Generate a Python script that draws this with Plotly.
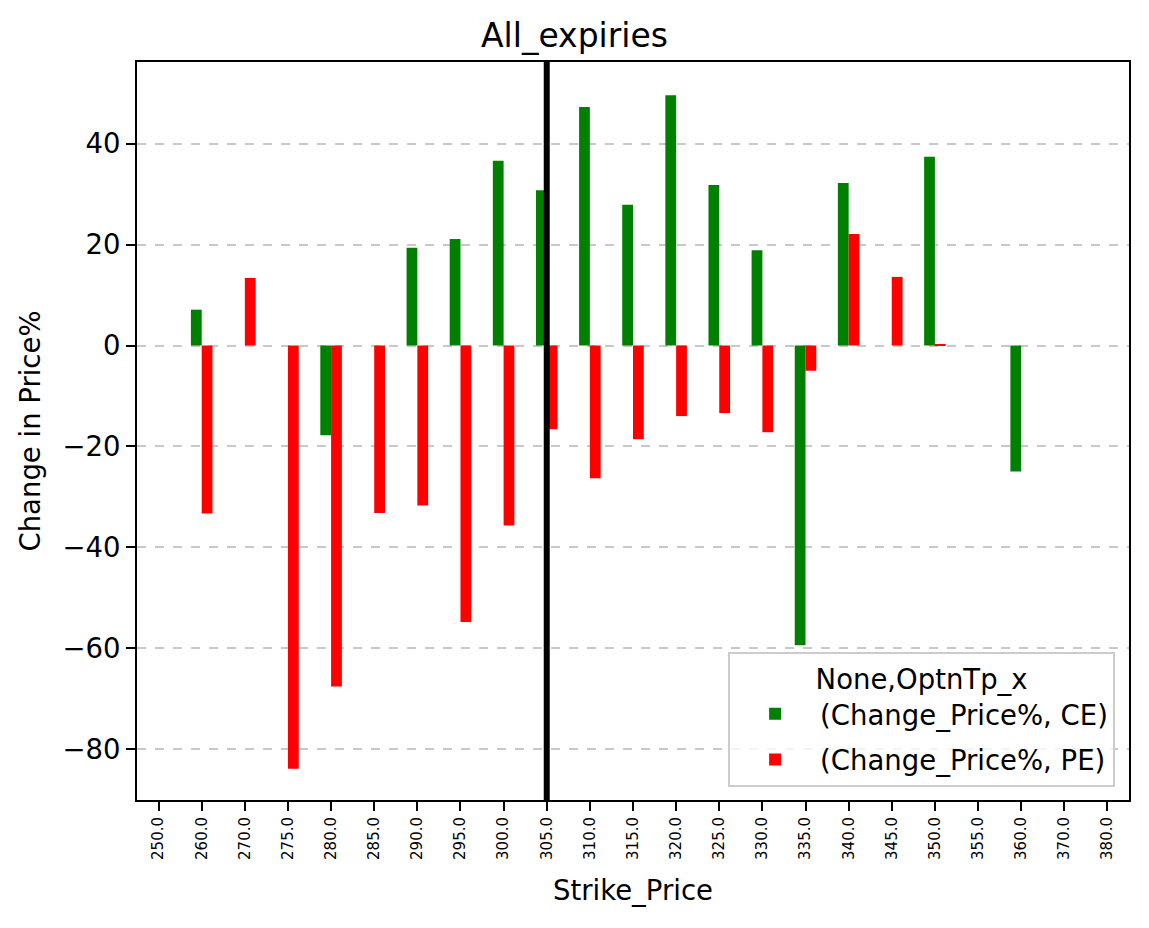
import plotly.graph_objects as go

strikes = ["250.0", "260.0", "270.0", "275.0", "280.0", "285.0", "290.0", "295.0",
           "300.0", "305.0", "310.0", "315.0", "320.0", "325.0", "330.0", "335.0",
           "340.0", "345.0", "350.0", "355.0", "360.0", "370.0", "380.0"]

ce_change = [None, 7.1, None, None, -17.8, None, 19.4, 21.1,
             36.6, 30.8, 47.3, 27.9, 49.6, 31.8, 18.9, -59.4,
             32.2, None, 37.4, None, -25.0, None, None]

pe_change = [None, -33.3, 13.4, -83.9, -67.6, -33.2, -31.7, -54.8,
             -35.7, -16.6, -26.3, -18.6, -14.0, -13.4, -17.2, -5.0,
             22.1, 13.6, 0.2, None, None, None, None]

atm_strike = "305.0"
y_ticks = [-80, -60, -40, -20, 0, 20, 40]

FONT = "DejaVu Sans"
BASE = 27.5

fig = go.Figure()
fig.add_trace(go.Bar(x=strikes, y=ce_change, name="(Change_Price%, CE)",
                     legendgroup="ce",
                     marker=dict(color="#008000", line=dict(width=0))))
fig.add_trace(go.Bar(x=strikes, y=pe_change, name="(Change_Price%, PE)",
                     legendgroup="pe",
                     marker=dict(color="#ff0000", line=dict(width=0))))

atm_idx = strikes.index(atm_strike)
fig.add_shape(type="line", xref="x", yref="paper", x0=atm_idx, x1=atm_idx,
              y0=0, y1=1, line=dict(color="black", width=6), layer="above")

fig.update_layout(
    width=1149, height=928,
    margin=dict(l=137, r=20, t=62, b=128),
    paper_bgcolor="white", plot_bgcolor="white",
    font=dict(family=FONT, size=BASE, color="black"),
    barmode="group", bargap=0.5, bargroupgap=0,
    title=dict(text="All_expiries", x=0.5, xanchor="center", y=1 - 35 / 928,
               yanchor="middle", font=dict(size=33, family=FONT)),
    showlegend=True,
    legend=dict(
        title=dict(text="None,OptnTp_x", side="top center",
                   font=dict(size=BASE, family=FONT)),
        font=dict(size=BASE, family=FONT),
        x=0.986, xanchor="right", y=0.018, yanchor="bottom",
        bgcolor="rgba(255,255,255,0.8)", bordercolor="#cccccc", borderwidth=2,
        itemwidth=80, tracegroupgap=7,
    ),
)

fig.update_xaxes(
    type="category", categoryorder="array", categoryarray=strikes,
    range=[-0.5, len(strikes) - 0.5],
    title=dict(text="Strike_Price", font=dict(size=BASE, family=FONT), standoff=22),
    tickangle=-90, tickfont=dict(size=15, family=FONT),
    showline=True, linecolor="black", linewidth=2, mirror=True,
    ticks="outside", ticklen=9, tickwidth=2, tickcolor="black",
    showgrid=False, zeroline=False,
)

fig.update_yaxes(
    range=[-90.1, 56.2],
    tickmode="array", tickvals=y_ticks,
    title=dict(text="Change in Price%", font=dict(size=BASE, family=FONT), standoff=14),
    tickfont=dict(size=BASE, family=FONT),
    showline=True, linecolor="black", linewidth=2, mirror=True,
    ticks="outside", ticklen=9, tickwidth=2, tickcolor="black",
    showgrid=True, gridcolor="#c8c8c8", gridwidth=1.5, griddash="dash",
    zeroline=False, layer="above traces",
)

fig.write_html("out.html", config={"displayModeBar": False},
               post_script="document.body.style.margin='0px';")
